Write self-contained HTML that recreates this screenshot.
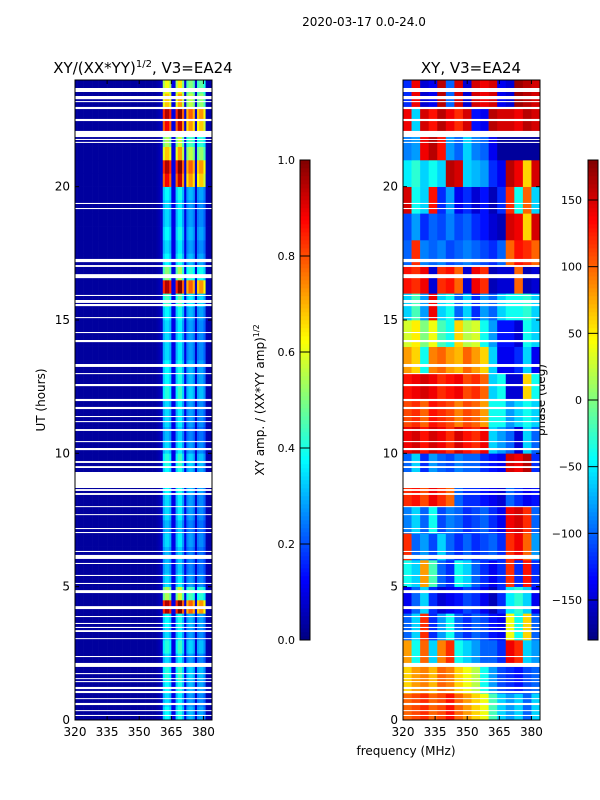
<!DOCTYPE html>
<html><head><meta charset="utf-8">
<style>
html,body{margin:0;padding:0;background:#fff;}
svg{display:block;font-family:"DejaVu Sans","Liberation Sans",sans-serif;}
</style></head>
<body>
<svg id="fig" width="600" height="800" viewBox="0 0 600 800" xmlns="http://www.w3.org/2000/svg">
<rect x="0" y="0" width="600" height="800" fill="#fff"/>
<text x="364" y="26" font-size="12" text-anchor="middle">2020-03-17 0.0-24.0</text>
<text x="143" y="73" font-size="15" text-anchor="middle">XY/(XX*YY)<tspan font-size="10" dy="-6">1/2</tspan><tspan dy="6">, V3=EA24</tspan></text>
<text x="471" y="73" font-size="15" text-anchor="middle">XY, V3=EA24</text>
<text x="45" y="400" font-size="12" text-anchor="middle" transform="rotate(-90 45 400)">UT (hours)</text>
<text x="406" y="755" font-size="12" text-anchor="middle">frequency (MHz)</text>
<text x="264" y="400" font-size="12" text-anchor="middle" transform="rotate(-90 264 400)">XY amp. / (XX*YY amp)<tspan font-size="8" dy="-5">1/2</tspan></text>
<text x="545" y="400" font-size="12" text-anchor="middle" transform="rotate(-90 545 400)">phase (deg)</text>
<g id="left"></g>
<g id="right"></g>
<g id="axes"></g>
</svg>
<script>
// ---- data ----
const freqMin = 320, freqMax = 384, hourMin = 0, hourMax = 24;
const xTicks = [320, 335, 350, 365, 380];
const yTicks = [0, 5, 10, 15, 20];
const ampTicks = [0.0, 0.2, 0.4, 0.6, 0.8, 1.0];
const phaseTicks = [-150, -100, -50, 0, 50, 100, 150];
// amplitude profile per 1 MHz channel (320..384)
const ampChannelProfile = [
0.03,0.03,0.03,0.03,0.03,0.03,0.03,0.03,0.03,0.03,0.03,0.03,0.03,0.03,0.03,0.03,
0.03,0.03,0.03,0.03,0.03,0.03,0.03,0.03,0.03,0.03,0.03,0.03,0.03,0.03,0.03,0.03,
0.03,0.03,0.03,0.03,0.03,0.03,0.04,0.05,0.07,0.30,0.34,0.34,0.30,0.10,0.10,0.30,
0.36,0.36,0.28,0.10,0.25,0.28,0.28,0.25,0.08,0.24,0.26,0.26,0.22,0.05,0.04,0.04];
// amplitude strength per 0.5 h row (0..24 h)
const ampRowStrength = [
1.1,1.0,1.1,1.2,1.0,1.2,1.0,1.1,2.8,1.6,1.0,0.9,0.9,1.0,0.9,1.0,
1.0,1.1,1.1,1.2,1.0,0.9,1.0,1.0,1.2,1.1,1.1,1.0,1.0,1.0,1.1,1.3,
2.8,1.5,1.1,1.0,1.1,1.0,1.0,1.1,2.6,2.8,2.0,1.6,2.6,2.8,2.0,1.8];
// flagged (blank) time ranges in hours
const flaggedHours = [
[23.55,23.70],[23.28,23.40],[23.17,23.21],[22.91,22.99],[22.46,22.54],[21.86,22.09],[21.75,21.79],[21.64,21.68],
[19.35,19.39],[19.16,19.20],[17.17,17.29],[16.99,17.06],[16.57,16.72],[15.90,15.94],[15.64,15.75],[15.52,15.60],
[15.07,15.11],[14.51,14.55],[14.17,14.25],[13.24,13.35],[12.97,13.01],[12.52,12.60],[11.96,12.04],[11.66,11.74],
[11.36,11.40],[11.17,11.21],[10.84,10.91],[10.42,10.46],[10.12,10.20],[9.64,9.71],[9.45,9.52],[8.70,9.30],
[8.59,8.66],[8.44,8.51],[7.99,8.02],[7.69,7.72],[7.16,7.20],[7.01,7.05],[6.30,6.34],[6.04,6.19],[5.85,5.89],
[5.40,5.44],[5.10,5.14],[4.76,4.87],[4.16,4.27],[3.86,3.90],[3.60,3.64],[3.45,3.49],[3.30,3.37],[3.04,3.07],
[2.36,2.40],[1.99,2.14],[1.72,1.76],[1.54,1.57],[1.42,1.46],[1.16,1.24],[1.01,1.09],[0.79,0.82],[0.56,0.64],
[0.34,0.37],[0.15,0.19]];
// phase (deg), 16 channels of 4 MHz x 24 rows of 1 h (row 0 = 0h)
const phaseRows = [
[100,110,120,100,110,130,100,80,60,40,-20,-60,-80,-60,-100,-60],
[60,80,90,70,100,90,60,40,20,-40,-80,-110,-120,-130,-110,-100],
[80,-40,100,-60,90,120,-40,-60,-80,-100,-100,-120,140,120,-60,-80],
[-100,-60,120,-120,-80,-40,-100,-120,-100,-110,-130,-140,40,-40,60,-100],
[-140,-100,-60,-120,-150,-140,-130,-110,-120,-140,-160,-120,-50,-30,-60,-140],
[-40,-60,80,-20,-100,-120,-40,-60,-100,-120,-140,-120,120,-120,130,-120],
[120,-100,-80,-110,-60,-100,-120,-100,-120,-110,-100,-120,120,140,100,-80],
[-90,-60,-100,-40,-110,-90,-100,-120,-110,-100,-120,-140,140,150,120,-100],
[120,130,110,140,120,100,-100,-120,-120,-130,-140,-150,-100,-120,-140,-130],
[-100,-60,-120,-80,-100,-110,-90,-100,-100,-120,-130,-140,150,140,160,-120],
[140,150,130,150,140,120,150,130,120,140,-60,-80,-100,-150,-60,-100],
[110,120,100,130,120,110,90,110,100,80,-40,-40,-80,-60,-40,-60],
[130,140,150,140,120,130,140,110,120,100,-60,-40,-150,-150,60,-40],
[80,60,-40,90,100,80,70,100,80,60,-60,-140,-140,-120,-60,-140],
[30,50,0,40,-20,-40,60,20,30,-40,-80,-130,-130,-150,-40,-60],
[-60,-20,-80,140,-60,-40,-100,-60,-120,-80,-100,-60,-40,-40,-30,-60],
[130,120,140,-150,120,130,100,-150,140,120,-160,-150,-150,100,-160,-150],
[-100,120,-90,-100,-90,-110,-100,-90,-100,-110,-120,-100,100,130,120,100],
[-110,-80,-120,-100,-110,-90,-110,-100,-120,-130,-150,-160,150,140,60,150],
[150,-40,-60,130,-120,-80,-140,-120,-150,-130,-160,-120,120,-40,100,-60],
[-50,-30,-60,-40,-60,160,150,-60,-70,-80,-120,-140,160,140,60,150],
[-90,-80,140,160,130,-80,-100,-60,-90,-100,-140,-170,-170,-170,-170,-170],
[140,-60,150,130,160,140,120,150,-130,-140,160,150,150,140,160,150],
[-120,140,-150,-140,160,-100,150,-150,150,140,150,-140,-150,170,160,150]];

// ---- layout ----
const NS = "http://www.w3.org/2000/svg";
const panels = {left:{x0:75,x1:212}, right:{x0:403,x1:540}};
const yTop = 80, yBot = 720;
function yScale(h){ return yBot - (h - hourMin) / (hourMax - hourMin) * (yBot - yTop); }
function xScale(p, f){ return p.x0 + (f - freqMin) / (freqMax - freqMin) * (p.x1 - p.x0); }
function clamp(v){ return Math.max(0, Math.min(1, v)); }
function jet(t){
  t = clamp(t);
  const r = clamp(Math.min(4*t-1.5, -4*t+4.5));
  const g = clamp(Math.min(4*t-0.5, -4*t+3.5));
  const b = clamp(Math.min(4*t+0.5, -4*t+2.5));
  return "rgb(" + Math.round(r*255) + "," + Math.round(g*255) + "," + Math.round(b*255) + ")";
}
function mk(tag, attrs, parent){
  const e = document.createElementNS(NS, tag);
  for (const k in attrs) e.setAttribute(k, attrs[k]);
  parent.appendChild(e); return e;
}
const gL = document.getElementById("left");
const gR = document.getElementById("right");
const gA = document.getElementById("axes");

// amplitude heatmap
const chW = (freqMax - freqMin) / ampChannelProfile.length;
const rowH = (hourMax - hourMin) / ampRowStrength.length;
ampRowStrength.forEach((s, ri) => {
  ampChannelProfile.forEach((v, ci) => {
    const x = xScale(panels.left, freqMin + ci*chW), x2 = xScale(panels.left, freqMin + (ci+1)*chW);
    const y = yScale(hourMin + (ri+1)*rowH), y2 = yScale(hourMin + ri*rowH);
    const val = v > 0.2 ? v * s : v;
    const c = mk("rect", {x:x, y:y, width:x2-x+0.3, height:y2-y+0.3, fill:jet(val)}, gL);
    
    
  });
});
// phase heatmap
const pChW = (freqMax - freqMin) / phaseRows[0].length;
const pRowH = (hourMax - hourMin) / phaseRows.length;
phaseRows.forEach((row, ri) => {
  row.forEach((v, ci) => {
    const x = xScale(panels.right, freqMin + ci*pChW), x2 = xScale(panels.right, freqMin + (ci+1)*pChW);
    const y = yScale(hourMin + (ri+1)*pRowH), y2 = yScale(hourMin + ri*pRowH);
    const c = mk("rect", {x:x, y:y, width:x2-x+0.3, height:y2-y+0.3, fill:jet((v+180)/360)}, gR);
    
    
  });
});
// flagged rows
[["left", gL], ["right", gR]].forEach(([k, g]) => {
  const p = panels[k];
  flaggedHours.forEach(([a, b]) => {
    const y1 = yScale(b), y2 = yScale(a);
    const f = mk("rect", {x:p.x0, y:y1, width:p.x1-p.x0, height:Math.max(1, y2-y1), fill:"#fff"}, g);
    
    
  });
});
// axes frames + ticks
["left", "right"].forEach(k => {
  const p = panels[k];
  const fr = mk("rect", {x:p.x0, y:yTop, width:p.x1-p.x0, height:yBot-yTop, fill:"none", stroke:"#000", "stroke-width":1}, gA);
  
  
  xTicks.forEach(t => {
    const x = xScale(p, t);
    mk("line", {x1:x, x2:x, y1:yBot, y2:yBot-4, stroke:"#000"}, gA);
    mk("line", {x1:x, x2:x, y1:yTop, y2:yTop+4, stroke:"#000"}, gA);
    const lt = mk("text", {x:x, y:yBot+16, "font-size":12, "text-anchor":"middle"}, gA);
    lt.textContent = t;
    
    
  });
  yTicks.forEach(t => {
    const y = yScale(t);
    mk("line", {x1:p.x0, x2:p.x0+4, y1:y, y2:y, stroke:"#000"}, gA);
    mk("line", {x1:p.x1, x2:p.x1-4, y1:y, y2:y, stroke:"#000"}, gA);
    const lt = mk("text", {x:p.x0-5, y:y+4, "font-size":12, "text-anchor":"end"}, gA);
    lt.textContent = t;
    
    
  });
});
// colorbars
function colorbar(x, w, ticks, vmin, vmax, name, fmt){
  const n = 120, h = (640-160)/n;
  for (let i = 0; i < n; i++){
    mk("rect", {x:x, y:640-(i+1)*h, width:w, height:h+0.3, fill:jet((i+0.5)/n)}, gA);
  }
  const fr = mk("rect", {x:x, y:160, width:w, height:480, fill:"none", stroke:"#000"}, gA);
  
  
  ticks.forEach(t => {
    const y = 640 - (t - vmin)/(vmax - vmin)*480;
    mk("line", {x1:x, x2:x+w, y1:y, y2:y, stroke:"#000"}, gA);
    const lt = mk("text", {x:name==="amp-colorbar"? x-5 : x+w-16 , y:y+4, "font-size":11, "text-anchor":"end"}, gA);
    lt.textContent = fmt(t);
    
    
  });
}
colorbar(300, 10, ampTicks, 0, 1, "amp-colorbar", t => t.toFixed(1));
colorbar(588, 10, phaseTicks, -180, 180, "phase-colorbar", t => t < 0 ? "\u2212" + Math.abs(t) : String(t));
</script>
</body></html>
